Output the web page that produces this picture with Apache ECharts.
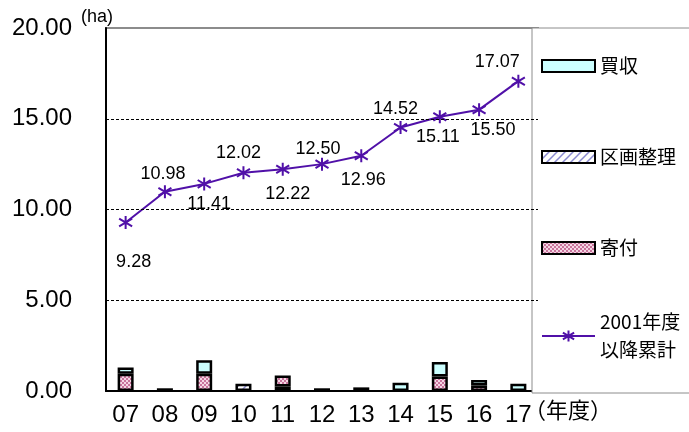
<!DOCTYPE html>
<html>
<head>
<meta charset="utf-8">
<script src="https://cdn.jsdelivr.net/npm/echarts@6/dist/echarts.min.js"></script>
<style>
  html, body { margin: 0; padding: 0; background: #fff; }
  #chart { width: 689px; height: 432px; }
</style>
</head>
<body>
<div id="chart"></div>
<script>
// 年度別の用地取得面積（ha）と 2001年度以降の累計
const years = ['07', '08', '09', '10', '11', '12', '13', '14', '15', '16', '17'];
const baishu = [0.35, 0.15, 0.75, 0, 0, 0.15, 0, 0.45, 0.80, 0.30, 0.40];   // 買収
const kukaku = [0, 0, 0, 0.40, 0.25, 0, 0, 0, 0, 0, 0];                     // 区画整理
const kifu = [0.95, 0, 0.95, 0, 0.60, 0, 0.20, 0, 0.80, 0.30, 0];           // 寄付
const cumulative = [9.28, 10.98, 11.41, 12.02, 12.22, 12.50, 12.96, 14.52, 15.11, 15.50, 17.07];
const yTicks = [0, 5, 10, 15, 20];

// label nudges (px) so the cumulative labels alternate above / below the line
const labelNudge = [[8, 39], [-2, -18], [5, 20], [-5, -20], [5, 25], [-4, -15],
                    [2, 24], [-5, -18], [-2, 20], [14, 20], [-21, -19]];

const FONT = "'Liberation Sans', Arial, 'Noto Sans CJK JP', sans-serif";
const JFONT = "'Noto Sans CJK JP', 'Liberation Sans', sans-serif";
const PURPLE = '#5010a8';

function makePattern(draw, w, h) {
  const c = document.createElement('canvas');
  c.width = w; c.height = h;
  draw(c.getContext('2d'));
  return { image: c, repeat: 'repeat' };
}
// pink checker for 寄付
const kifuFill = makePattern(ctx => {
  ctx.fillStyle = '#f4d6e4'; ctx.fillRect(0, 0, 4, 4);
  ctx.fillStyle = '#c8749c'; ctx.fillRect(0, 0, 2, 2); ctx.fillRect(2, 2, 2, 2);
}, 4, 4);
// light blue diagonal hatch for 区画整理
const kukakuFill = makePattern(ctx => {
  ctx.fillStyle = '#ffffff'; ctx.fillRect(0, 0, 8, 8);
  ctx.strokeStyle = '#8a8ad0'; ctx.lineWidth = 1.5;
  ctx.beginPath(); ctx.moveTo(0, 8); ctx.lineTo(8, 0); ctx.stroke();
  ctx.beginPath(); ctx.moveTo(-2, 2); ctx.lineTo(2, -2); ctx.stroke();
  ctx.beginPath(); ctx.moveTo(6, 10); ctx.lineTo(10, 6); ctx.stroke();
}, 8, 8);

const asBars = arr => arr.map(v => (v > 0 ? v : '-'));

const barStyle = fill => ({ color: fill, borderColor: '#000', borderWidth: 2.5 });

const chart = echarts.init(document.getElementById('chart'), null, { renderer: 'canvas' });

chart.setOption({
  animation: false,
  backgroundColor: '#fff',
  grid: { left: 106, right: 151, top: 28, bottom: 41, show: true,
          borderColor: '#8c8c8c', borderWidth: 2, backgroundColor: 'transparent' },
  xAxis: {
    type: 'category',
    data: years,
    axisLine: { lineStyle: { color: '#000', width: 2 } },
    axisTick: { inside: true, length: 6, lineStyle: { color: '#000', width: 1 } },
    axisLabel: { color: '#000', fontSize: 24, fontFamily: FONT, margin: 12 }
  },
  yAxis: {
    type: 'value',
    min: yTicks[0], max: yTicks[yTicks.length - 1], interval: 5,
    axisLine: { show: true, lineStyle: { color: '#000', width: 2 } },
    axisTick: { show: false },
    splitLine: { show: false },
    axisLabel: { color: '#000', fontSize: 24, fontFamily: FONT, margin: 34,
                 formatter: v => v.toFixed(2) }
  },
  legend: [
    {
      data: ['買収', '区画整理', '寄付'],
      orient: 'vertical', left: 536, top: 50, itemGap: 69,
      itemWidth: 53, itemHeight: 12, icon: 'rect', z: 10,
      textStyle: { color: '#000', fontSize: 19, fontFamily: JFONT, lineHeight: 22 }
    },
    {
      data: ['2001年度以降累計'],
      orient: 'vertical', left: 536, top: 289,
      itemWidth: 53, itemHeight: 14, z: 10,
      formatter: () => '2001年度\n以降累計',
      textStyle: { color: '#000', fontSize: 19, fontFamily: JFONT, lineHeight: 28,
                   padding: [28, 0, 0, 0] }
    }
  ],
  graphic: [
    { type: 'rect', z: 5, shape: { x: 532, y: 28, width: 200, height: 365 },
      style: { fill: '#fff', stroke: '#8c8c8c', lineWidth: 1 } },
    { type: 'text', z: 6, left: 81, top: 8,
      style: { text: '(ha)', fontSize: 18, fontFamily: FONT, fill: '#000' } },
    { type: 'text', z: 6, left: 524, top: 399,
      style: { text: '（年度）', fontSize: 22, fontFamily: JFONT, fill: '#000' } }
  ],
  series: [
    { name: '区画整理', type: 'bar', stack: 'area', barWidth: 16,
      data: asBars(kukaku), itemStyle: barStyle(kukakuFill) },
    { name: '寄付', type: 'bar', stack: 'area', barWidth: 16,
      data: asBars(kifu), itemStyle: barStyle(kifuFill) },
    { name: '買収', type: 'bar', stack: 'area', barWidth: 16,
      data: asBars(baishu), itemStyle: barStyle('#ccffff') },
    {
      name: '2001年度以降累計', type: 'line', z: 4,
      data: cumulative.map((v, i) => ({
        value: v,
        label: { offset: labelNudge[i] }
      })),
      symbol: 'path://M5,0L5,10M0,2L10,8M0,8L10,2',
      symbolSize: 13,
      lineStyle: { color: PURPLE, width: 2 },
      itemStyle: { color: PURPLE, borderColor: PURPLE, borderWidth: 2 },
      label: {
        show: true, position: 'inside', color: '#000',
        fontSize: 18, fontFamily: FONT,
        formatter: p => p.value.toFixed(2)
      },
      markLine: {
        silent: true, symbol: 'none', label: { show: false },
        lineStyle: { color: '#000', width: 1, type: [3, 2] },
        data: yTicks.slice(1, -1).map(v => ({ yAxis: v }))
      }
    }
  ]
});
</script>
</body>
</html>
